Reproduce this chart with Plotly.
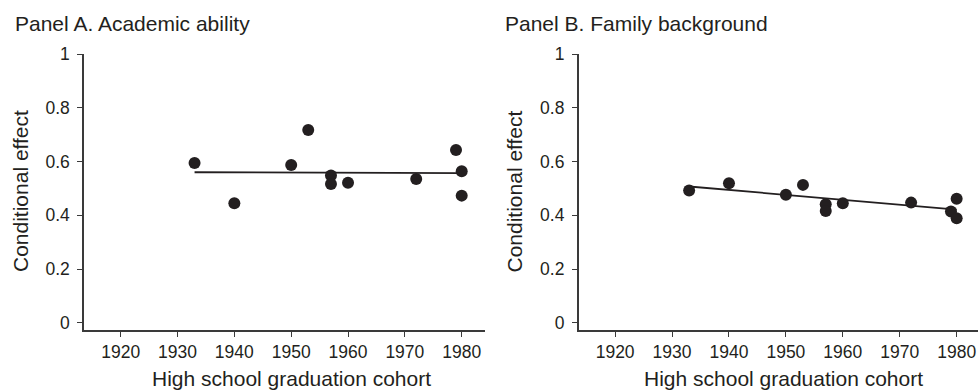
import plotly.graph_objects as go

# ---- data ----
years_a = [1933, 1940, 1950, 1953, 1957, 1957, 1960, 1972, 1979, 1980, 1980]
effect_a = [0.594, 0.445, 0.587, 0.717, 0.548, 0.516, 0.521, 0.535, 0.643, 0.564, 0.473]

years_b = [1933, 1940, 1950, 1953, 1957, 1957, 1960, 1972, 1979, 1980, 1980]
effect_b = [0.492, 0.519, 0.476, 0.513, 0.441, 0.416, 0.445, 0.447, 0.414, 0.461, 0.389]

fit_years = [1933, 1980]
fit_a = [0.560, 0.557]
fit_b = [0.507, 0.421]

x_ticks = [1920, 1930, 1940, 1950, 1960, 1970, 1980]
y_ticks = [0, 0.2, 0.4, 0.6, 0.8, 1]

panel_titles = ["Panel A. Academic ability", "Panel B. Family background"]
x_title = "High school graduation cohort"
y_title = "Conditional effect"

INK = "#231f20"
FONT = "Liberation Sans, Arial, Helvetica, sans-serif"
W, H = 978, 390

fig = go.Figure()

for i, (xs, ys, fy) in enumerate([(years_a, effect_a, fit_a), (years_b, effect_b, fit_b)]):
    xa = "x" if i == 0 else "x2"
    ya = "y" if i == 0 else "y2"
    fig.add_trace(go.Scatter(x=fit_years, y=fy, mode="lines",
                             line=dict(color=INK, width=1.8),
                             xaxis=xa, yaxis=ya, showlegend=False, hoverinfo="skip"))
    fig.add_trace(go.Scatter(x=xs, y=ys, mode="markers",
                             marker=dict(color=INK, size=12, line=dict(width=0)),
                             xaxis=xa, yaxis=ya, showlegend=False))

def px_x(p):
    return p / W

def px_y(p):
    return 1 - p / H

axis_common = dict(showline=True, linecolor="#3a3a3a", linewidth=1.5,
                   ticks="outside", ticklen=5, tickwidth=1.2, tickcolor="#3a3a3a",
                   showgrid=False, zeroline=False, fixedrange=True, automargin=False,
                   tickfont=dict(family=FONT, size=17.5, color=INK))

y_dom = [px_y(330), px_y(54)]

fig.update_layout(
    template="none",
    width=W, height=H,
    margin=dict(l=0, r=0, t=0, b=0, pad=0),
    paper_bgcolor="white", plot_bgcolor="white",
    font=dict(family=FONT, color=INK),
    xaxis=dict(domain=[px_x(84), px_x(485)], range=[1913.55, 1984.1],
               tickvals=x_ticks, anchor="y", ticklabelstandoff=0, **axis_common),
    yaxis=dict(domain=y_dom, range=[-0.027, 1.0], tickvals=y_ticks,
               anchor="x", ticklabelstandoff=4, **axis_common),
    xaxis2=dict(domain=[px_x(578.7), 1.0], range=[1913.6, 1983.75],
                tickvals=x_ticks, anchor="y2", ticklabelstandoff=0, **axis_common),
    yaxis2=dict(domain=y_dom, range=[-0.027, 1.0], tickvals=y_ticks,
                anchor="x2", ticklabelstandoff=4, **axis_common),
)

ann_font = dict(family=FONT, size=21, color=INK)
annotations = [
    dict(text=panel_titles[0], x=px_x(13), y=px_y(23.5), xanchor="left", yanchor="middle"),
    dict(text=panel_titles[1], x=px_x(503.3), y=px_y(23.5), xanchor="left", yanchor="middle"),
    dict(text=x_title, x=px_x(291.5), y=px_y(378.5), xanchor="center", yanchor="middle"),
    dict(text=x_title, x=px_x(783), y=px_y(378.5), xanchor="center", yanchor="middle"),
    dict(text=y_title, x=px_x(20.5), y=px_y(191.5), xanchor="center", yanchor="middle", textangle=-90),
    dict(text=y_title, x=px_x(514), y=px_y(191.5), xanchor="center", yanchor="middle", textangle=-90),
]
for a in annotations:
    a.update(xref="paper", yref="paper", showarrow=False, font=ann_font)
fig.update_layout(annotations=annotations)

fig.write_html("out.html")
